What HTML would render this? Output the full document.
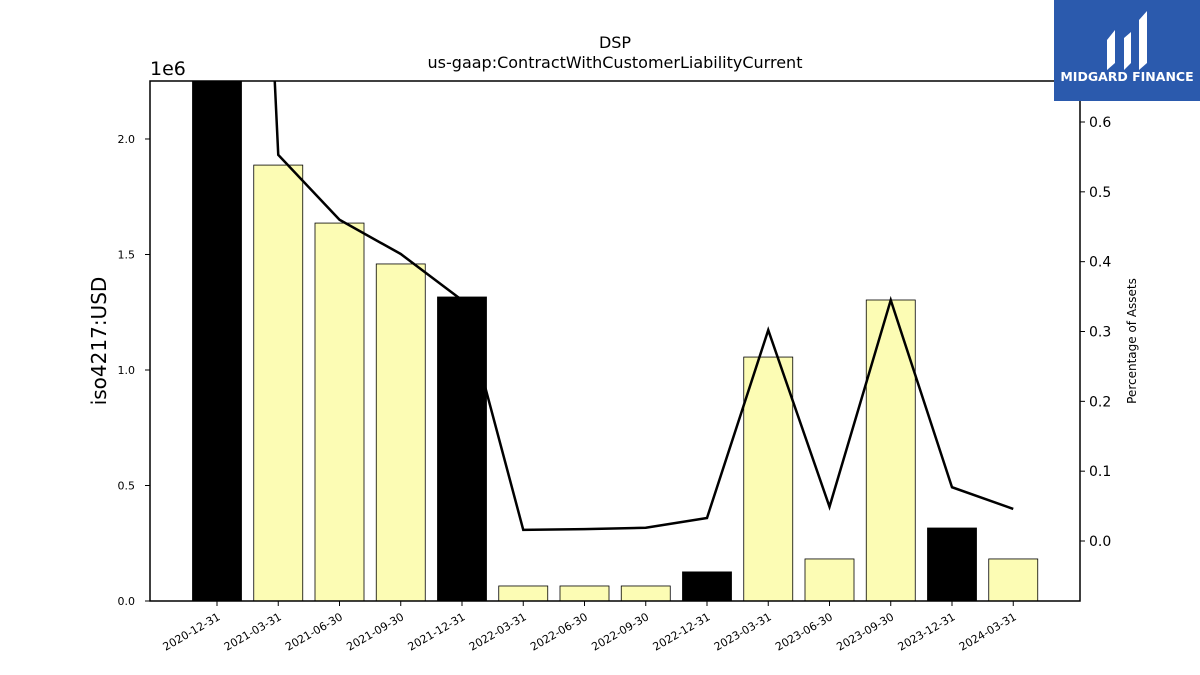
<!DOCTYPE html>
<html><head><meta charset="utf-8"><style>
body{margin:0;background:#fff;}
svg{display:block;font-family:"DejaVu Sans","Liberation Sans",sans-serif;}
</style></head><body>
<svg id="chart" width="1200" height="675" viewBox="0 0 1200 675" xmlns="http://www.w3.org/2000/svg">
<text x="615" y="48" font-size="16" text-anchor="middle">DSP</text>
<text x="615" y="68" font-size="16" text-anchor="middle">us-gaap:ContractWithCustomerLiabilityCurrent</text>
<text x="150" y="75" font-size="19">1e6</text>
<text transform="translate(106,341) rotate(-90)" font-size="20" text-anchor="middle">iso4217:USD</text>
<text transform="translate(1136,341) rotate(-90)" font-size="12" text-anchor="middle">Percentage of Assets</text>
<g id="bars"></g>
<g id="line"></g>
<g id="axes"></g>
<rect x="150" y="81" width="930" height="520" fill="none" stroke="#000" stroke-width="1.5"/>
<g>
<rect x="1054" y="0" width="146" height="101" fill="#2b5aad"/>
<path d="M1107 40 L1115 30 L1115 63 L1107 70 Z M1124 38 L1131 32 L1131 46 L1124 52 Z M1124 52 L1131 46 L1131 63 L1124 70 Z M1139 20 L1147 11 L1147 63 L1139 70 Z" fill="#fff"/>
<text x="1127" y="81" font-size="12.5" font-weight="bold" fill="#fff" text-anchor="middle">MIDGARD FINANCE</text>
</g>
</svg>
<script>
const categories=["2020-12-31","2021-03-31","2021-06-30","2021-09-30","2021-12-31","2022-03-31","2022-06-30","2022-09-30","2022-12-31","2023-03-31","2023-06-30","2023-09-30","2023-12-31","2024-03-31"];
const barValues=[2.6,1.887,1.636,1.459,1.316,0.065,0.065,0.065,0.126,1.056,0.182,1.303,0.316,0.182];
const barIsAnnual=[1,0,0,0,1,0,0,0,1,0,0,0,1,0];
const pctValues=[2.4,0.553,0.460,0.411,0.345,0.016,0.017,0.019,0.033,0.302,0.049,0.345,0.077,0.046];
const leftTicks=[0,0.5,1.0,1.5,2.0];
const leftTickLabels=["0.0","0.5","1.0","1.5","2.0"];
const rightTicks=[0,0.1,0.2,0.3,0.4,0.5,0.6];
const rightTickLabels=["0.0","0.1","0.2","0.3","0.4","0.5","0.6"];
const NS="http://www.w3.org/2000/svg";
const L=150,R=1080,T=81,B=601;
const yL=v=>B-(v/2.251)*(B-T);
const yR=v=>B-((v+0.0859)/(0.6587+0.0859))*(B-T);
const step=61.25, x0=217;
const xC=i=>x0+i*step;
function mk(tag,attrs,parent){const e=document.createElementNS(NS,tag);for(const k in attrs)e.setAttribute(k,attrs[k]);parent.appendChild(e);return e;}
const defs=mk("defs",{},document.getElementById("chart"));
const cp=mk("clipPath",{id:"clip"},defs);
mk("rect",{x:L,y:T,width:R-L,height:B-T},cp);
const bars=document.getElementById("bars");bars.setAttribute("clip-path","url(#clip)");
barValues.forEach((v,i)=>{
 const y=yL(v);
 const r=mk("rect",{x:xC(i)-24.5,y:y,width:49,height:B-y,fill:barIsAnnual[i]?"#000":"#fcfcb4",stroke:"#000","stroke-width":0.8},bars);
 
 
});
const line=document.getElementById("line");line.setAttribute("clip-path","url(#clip)");
const p=mk("polyline",{points:pctValues.map((v,i)=>xC(i)+","+yR(v)).join(" "),fill:"none",stroke:"#000","stroke-width":2.5},line);


const ax=document.getElementById("axes");
leftTicks.forEach((v,i)=>{
 const y=yL(v);
 const t=mk("line",{x1:L-5,x2:L,y1:y,y2:y,stroke:"#000"},ax);
 
 
 const tx=mk("text",{x:L-15,y:y+4,"font-size":11,"text-anchor":"end"},ax);tx.textContent=leftTickLabels[i];
 
 
});
rightTicks.forEach((v,i)=>{
 const y=yR(v);
 const t=mk("line",{x1:R,x2:R+5,y1:y,y2:y,stroke:"#000"},ax);
 
 
 const tx=mk("text",{x:R+9,y:y+5,"font-size":14},ax);tx.textContent=rightTickLabels[i];
 
 
});
categories.forEach((c,i)=>{
 const x=xC(i);
 const t=mk("line",{x1:x,x2:x,y1:B,y2:B+5,stroke:"#000"},ax);
 
 
 const tx=mk("text",{transform:`translate(${x+4},${B+18}) rotate(-30)`,"font-size":11,"text-anchor":"end"},ax);tx.textContent=c;
 
 
});
</script>
</body></html>
